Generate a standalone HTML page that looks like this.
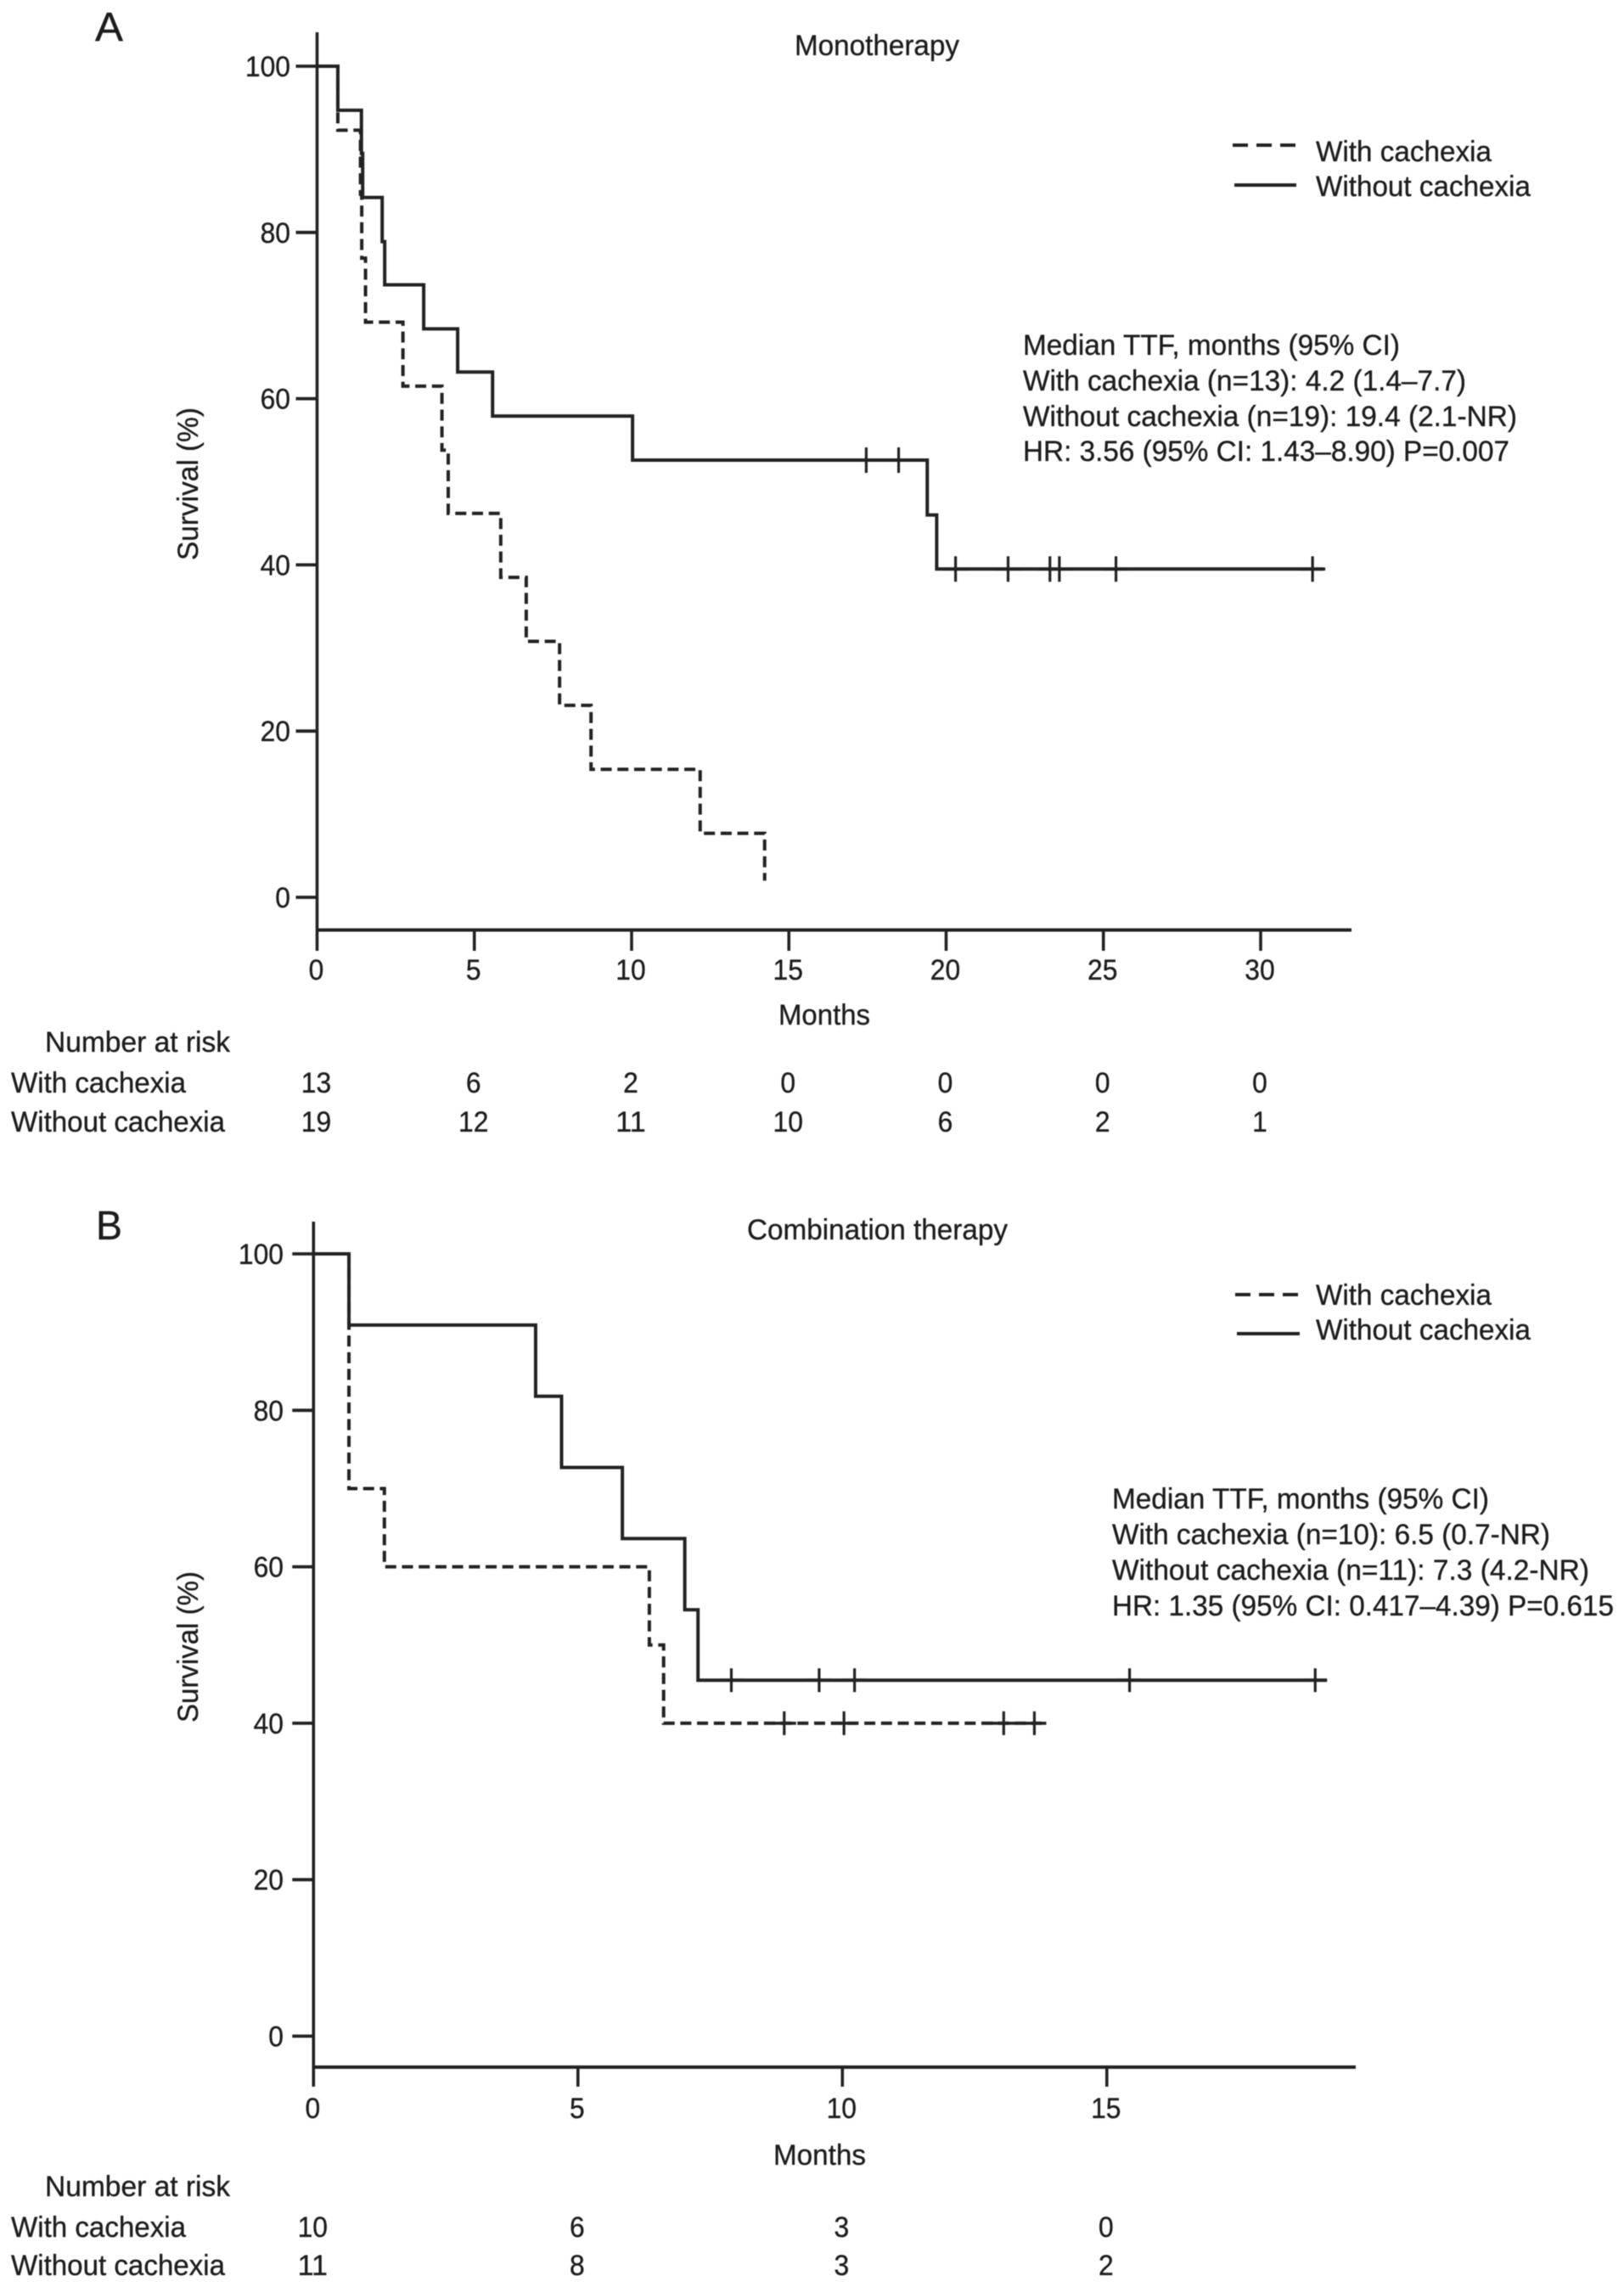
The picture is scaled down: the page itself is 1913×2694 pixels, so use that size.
<!DOCTYPE html>
<html lang="en">
<head>
<meta charset="utf-8">
<title>Survival curves by cachexia status</title>
<style>
html,body{margin:0;padding:0;background:#fff;}
svg{display:block;filter:blur(0.6px);}
text{font-family:"Liberation Sans",sans-serif;font-size:34px;fill:#1c1c1c;stroke:#1c1c1c;stroke-width:0.35px;}
</style>
</head>
<body>
<svg id="chart" xmlns="http://www.w3.org/2000/svg" width="1913" height="2694" viewBox="0 0 1913 2694">
<rect x="0" y="0" width="1913" height="2694" fill="#fff"/>

<text x="112" y="48" style="font-size:48px" textLength="33" lengthAdjust="spacingAndGlyphs">A</text>
<text x="936" y="65" textLength="194" lengthAdjust="spacingAndGlyphs">Monotherapy</text>
<text transform="translate(233,660) rotate(-90)" textLength="180" lengthAdjust="spacingAndGlyphs">Survival (%)</text>
<text x="917" y="1207" textLength="108" lengthAdjust="spacingAndGlyphs">Months</text>
<text x="53" y="1239" textLength="218" lengthAdjust="spacingAndGlyphs">Number at risk</text>
<text x="13" y="1287" textLength="206" lengthAdjust="spacingAndGlyphs">With cachexia</text>
<text x="13" y="1333" textLength="252" lengthAdjust="spacingAndGlyphs">Without cachexia</text>

<line x1="1452" y1="171" x2="1527" y2="171" stroke="#222" stroke-width="4" stroke-dasharray="18,10"/>
<line x1="1454" y1="218" x2="1527" y2="218" stroke="#222" stroke-width="4"/>
<text x="1550" y="190" textLength="207" lengthAdjust="spacingAndGlyphs">With cachexia</text>
<text x="1550" y="231" textLength="253" lengthAdjust="spacingAndGlyphs">Without cachexia</text>

<text x="1205" y="418" textLength="444" lengthAdjust="spacingAndGlyphs">Median TTF, months (95% CI)</text>
<text x="1205" y="460" textLength="522" lengthAdjust="spacingAndGlyphs">With cachexia (n=13): 4.2 (1.4–7.7)</text>
<text x="1205" y="502" textLength="582" lengthAdjust="spacingAndGlyphs">Without cachexia (n=19): 19.4 (2.1-NR)</text>
<text x="1205" y="543" textLength="573" lengthAdjust="spacingAndGlyphs">HR: 3.56 (95% CI: 1.43–8.90) P=0.007</text>

<text x="113" y="1460" style="font-size:48px" textLength="31" lengthAdjust="spacingAndGlyphs">B</text>
<text x="880" y="1460" textLength="307" lengthAdjust="spacingAndGlyphs">Combination therapy</text>
<text transform="translate(233,2029) rotate(-90)" textLength="178" lengthAdjust="spacingAndGlyphs">Survival (%)</text>
<text x="911" y="2550" textLength="109" lengthAdjust="spacingAndGlyphs">Months</text>
<text x="53" y="2587" textLength="218" lengthAdjust="spacingAndGlyphs">Number at risk</text>
<text x="13" y="2635" textLength="206" lengthAdjust="spacingAndGlyphs">With cachexia</text>
<text x="13" y="2680" textLength="252" lengthAdjust="spacingAndGlyphs">Without cachexia</text>

<line x1="1455" y1="1525" x2="1531" y2="1525" stroke="#222" stroke-width="4" stroke-dasharray="18,10"/>
<line x1="1457" y1="1571" x2="1531" y2="1571" stroke="#222" stroke-width="4"/>
<text x="1550" y="1537" textLength="207" lengthAdjust="spacingAndGlyphs">With cachexia</text>
<text x="1550" y="1578" textLength="253" lengthAdjust="spacingAndGlyphs">Without cachexia</text>

<text x="1310" y="1777" textLength="444" lengthAdjust="spacingAndGlyphs">Median TTF, months (95% CI)</text>
<text x="1310" y="1819" textLength="516" lengthAdjust="spacingAndGlyphs">With cachexia (n=10): 6.5 (0.7-NR)</text>
<text x="1310" y="1861" textLength="562" lengthAdjust="spacingAndGlyphs">Without cachexia (n=11): 7.3 (4.2-NR)</text>
<text x="1310" y="1903" textLength="591" lengthAdjust="spacingAndGlyphs">HR: 1.35 (95% CI: 0.417–4.39) P=0.615</text>
</svg>
<script>
/* Panel A data */
const aMonthTicks = [0, 5, 10, 15, 20, 25, 30];
const aSurvivalTicks = [0, 20, 40, 60, 80, 100];
const aSolidTimes = [0.66, 1.41, 1.45, 2.07, 2.15, 3.39, 4.47, 5.58, 10.03, 19.4, 19.7];
const aSolidSurvival = [94.7, 89.5, 84.2, 78.9, 73.7, 68.4, 63.2, 57.9, 52.6, 46.0, 39.5];
const aSolidEnd = 32.0;
const aSolidCensored = [17.46, 18.49, 20.3, 21.97, 23.3, 23.6, 25.4, 31.65];
const aDashedTimes = [0.66, 1.38, 1.42, 1.54, 2.73, 3.97, 4.17, 5.84, 6.65, 7.71, 8.71, 12.18, 14.23];
const aDashedSurvival = [92.3, 84.6, 76.9, 69.2, 61.5, 53.8, 46.2, 38.5, 30.8, 23.1, 15.4, 7.7, 2.0];
const aDashedEnd = 14.23;
const aDashedCensored = [];
const aRiskWith = [13, 6, 2, 0, 0, 0, 0];
const aRiskWithout = [19, 12, 11, 10, 6, 2, 1];

/* Panel B data */
const bMonthTicks = [0, 5, 10, 15];
const bSurvivalTicks = [0, 20, 40, 60, 80, 100];
const bSolidTimes = [0.67, 4.2, 4.69, 5.84, 7.02, 7.27];
const bSolidSurvival = [90.9, 81.8, 72.7, 63.6, 54.5, 45.5];
const bSolidEnd = 19.16;
const bSolidCensored = [7.9, 9.56, 10.23, 15.43, 18.94];
const bDashedTimes = [0.67, 1.34, 6.35, 6.62];
const bDashedSurvival = [70, 60, 50, 40];
const bDashedEnd = 13.77;
const bDashedCensored = [8.9, 10.03, 13.05, 13.63];
const bRiskWith = [10, 6, 3, 0];
const bRiskWithout = [11, 8, 3, 2];

const SVGNS = 'http://www.w3.org/2000/svg';
const svg = document.getElementById('chart');
const INK = '#222';
const DIGIT_WIDTH = 17.7;

function mark(tag, props, name) {
  const el = document.createElementNS(SVGNS, tag);
  for (const k in props) el.setAttribute(k, props[k]);
  
  
  svg.appendChild(el);
  return el;
}

function label(text, x, y, anchor, name) {
  const el = mark('text', {x: x, y: y, 'text-anchor': anchor, textLength: text.length * DIGIT_WIDTH, lengthAdjust: 'spacingAndGlyphs'}, name);
  el.textContent = text;
}

function survivalAt(times, values, t) {
  let s = 100;
  for (let i = 0; i < times.length; i++) if (times[i] <= t) s = values[i];
  return s;
}

function drawCurve(prefix, X, Y, times, values, end, censored, dashed, markH) {
  let d = 'M' + X(0) + ' ' + Y(100);
  let cur = 100;
  times.forEach(function (t, i) {
    d += 'L' + X(t) + ' ' + Y(cur) + 'L' + X(t) + ' ' + Y(values[i]);
    cur = values[i];
  });
  d += 'L' + X(end) + ' ' + Y(cur);
  const props = {d: d, fill: 'none', stroke: INK, 'stroke-width': 4, 'stroke-linejoin': 'miter'};
  if (dashed) props['stroke-dasharray'] = '13,6.7';
  mark('path', props, prefix + '-curve');
  censored.forEach(function (t, i) {
    const s = survivalAt(times, values, t);
    mark('line', {x1: X(t), x2: X(t), y1: Y(s) - markH, y2: Y(s) + markH, stroke: INK, 'stroke-width': 3.2}, prefix + '-censor-v-' + i);
    mark('line', {x1: X(t) - markH, x2: X(t) + markH, y1: Y(s), y2: Y(s), stroke: INK, 'stroke-width': 3.6}, prefix + '-censor-h-' + i);
  });
}

function drawPanel(p, cfg) {
  const X = cfg.X, Y = cfg.Y;
  mark('line', {x1: X(0), x2: X(0), y1: cfg.axisTop, y2: cfg.tickBottom, stroke: INK, 'stroke-width': 3.6}, p + '-y-axis');
  mark('line', {x1: X(0), x2: cfg.axisRight, y1: cfg.axisY, y2: cfg.axisY, stroke: INK, 'stroke-width': 4}, p + '-x-axis');
  cfg.survivalTicks.forEach(function (v) {
    mark('line', {x1: X(0) - 25, x2: X(0), y1: Y(v), y2: Y(v), stroke: INK, 'stroke-width': 3.8}, p + '-y-tick-' + v);
    label(String(v), cfg.yLabelRight, Y(v) + 12, 'end', p + '-y-tick-label-' + v);
  });
  cfg.monthTicks.forEach(function (v, i) {
    if (v !== 0) mark('line', {x1: X(v), x2: X(v), y1: cfg.axisY, y2: cfg.tickBottom, stroke: INK, 'stroke-width': 3.6}, p + '-x-tick-' + v);
    label(String(v), X(v) + cfg.labelShift, cfg.xLabelY, 'middle', p + '-x-tick-label-' + v);
    label(String(cfg.riskWith[i]), X(v) + cfg.labelShift, cfg.riskY1, 'middle', p + '-risk-with-' + v);
    label(String(cfg.riskWithout[i]), X(v) + cfg.labelShift, cfg.riskY2, 'middle', p + '-risk-without-' + v);
  });
  drawCurve(p + '-with-cachexia', X, Y, cfg.dashedTimes, cfg.dashedSurvival, cfg.dashedEnd, cfg.dashedCensored, true, cfg.markH);
  drawCurve(p + '-without-cachexia', X, Y, cfg.solidTimes, cfg.solidSurvival, cfg.solidEnd, cfg.solidCensored, false, cfg.markH);
}

function xScaleA(t) { return 373.5 + t * 37.05; }
function yScaleA(s) { return 1057 - s * 9.79; }
function xScaleB(t) { return 369.3 + t * 62.3; }
function yScaleB(s) { return 2398.5 - s * 9.215; }

drawPanel('panel-a', {
  X: xScaleA, Y: yScaleA,
  axisTop: 38, axisY: 1095.5, axisRight: 1592, tickBottom: 1120,
  yLabelRight: 342, xLabelY: 1154, riskY1: 1287, riskY2: 1333, labelShift: -1, markH: 15,
  monthTicks: aMonthTicks, survivalTicks: aSurvivalTicks,
  riskWith: aRiskWith, riskWithout: aRiskWithout,
  solidTimes: aSolidTimes, solidSurvival: aSolidSurvival, solidEnd: aSolidEnd, solidCensored: aSolidCensored,
  dashedTimes: aDashedTimes, dashedSurvival: aDashedSurvival, dashedEnd: aDashedEnd, dashedCensored: aDashedCensored
});

drawPanel('panel-b', {
  X: xScaleB, Y: yScaleB,
  axisTop: 1439, axisY: 2435, axisRight: 1597, tickBottom: 2458,
  yLabelRight: 334, xLabelY: 2495, riskY1: 2635, riskY2: 2680, labelShift: -1, markH: 14,
  monthTicks: bMonthTicks, survivalTicks: bSurvivalTicks,
  riskWith: bRiskWith, riskWithout: bRiskWithout,
  solidTimes: bSolidTimes, solidSurvival: bSolidSurvival, solidEnd: bSolidEnd, solidCensored: bSolidCensored,
  dashedTimes: bDashedTimes, dashedSurvival: bDashedSurvival, dashedEnd: bDashedEnd, dashedCensored: bDashedCensored
});
</script>
</body>
</html>
